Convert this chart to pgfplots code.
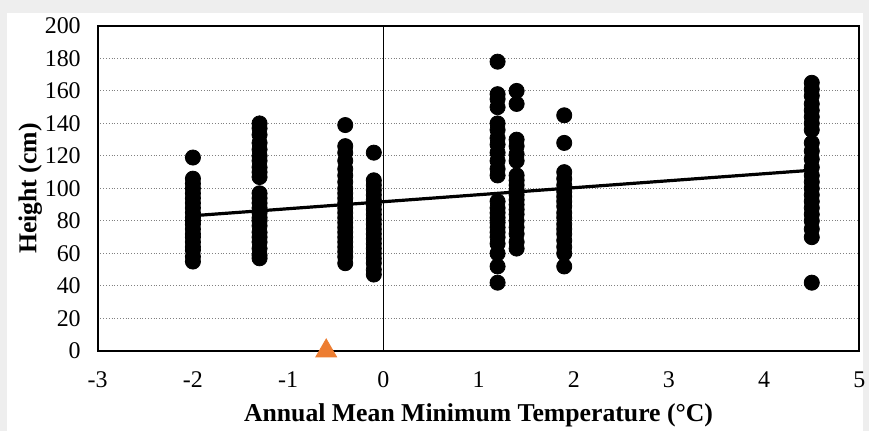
\documentclass[border=0pt]{standalone}
\usepackage{pgfplots}
\pgfplotsset{compat=1.18}
\usepackage{fontspec}
\setmainfont{Liberation Serif}
\definecolor{bgc}{HTML}{EEEEEE}
\definecolor{tri}{HTML}{ED7D31}
\begin{document}
\begin{tikzpicture}[x=1pt,y=1pt]
\fill[bgc] (0,0) rectangle (436,216);
\fill[white] (3.5,0) rectangle (433,209.5);
\begin{axis}[
  at={(49pt,40pt)}, anchor=south west,
  width=382pt, height=163pt, scale only axis,
  xmin=-3, xmax=5, ymin=0, ymax=200,
  xtick={-3,-2,-1,0,1,2,3,4,5},
  ytick={0,20,40,60,80,100,120,140,160,180,200},
  major tick length=0pt,
  ymajorgrids, grid style={densely dotted, gray, line width=0.5pt},
  axis line style={black, line width=0.9pt},
  /pgf/number format/assume math mode=true,
  ticklabel style={font=\fontsize{12}{14}\selectfont},
  xticklabel style={yshift=-7pt},
  yticklabel style={xshift=-5pt},
  xlabel={\textbf{Annual Mean Minimum Temperature (°C)}},
  ylabel={\textbf{Height (cm)}},
  label style={font=\fontsize{12.9}{15}\selectfont},
  xlabel style={yshift=-1pt},
  ylabel style={yshift=-5.5pt},
  clip=false,
]
\addplot[black, line width=0.8pt] coordinates {(0,0) (0,200)};
\addplot[only marks, mark=*, mark size=3.8pt, mark options={fill=black, draw=black}] table {
x y
-2 119
-2 106
-2 103
-2 100
-2 97
-2 94
-2 91
-2 88
-2 85
-2 82
-2 80
-2 78
-2 75
-2 72
-2 70
-2 67
-2 64
-2 62
-2 58
-2 55
-1.3 140
-1.3 137
-1.3 133
-1.3 128
-1.3 124
-1.3 120
-1.3 117
-1.3 113
-1.3 110
-1.3 107
-1.3 97
-1.3 94
-1.3 91
-1.3 88
-1.3 85
-1.3 82
-1.3 80
-1.3 77
-1.3 73
-1.3 70
-1.3 67
-1.3 63
-1.3 59
-1.3 57
-0.4 139
-0.4 126
-0.4 122
-0.4 117
-0.4 112
-0.4 108
-0.4 104
-0.4 100
-0.4 97
-0.4 94
-0.4 91
-0.4 88
-0.4 85
-0.4 82
-0.4 79
-0.4 76
-0.4 73
-0.4 70
-0.4 67
-0.4 64
-0.4 61
-0.4 58
-0.4 54
-0.1 122
-0.1 105
-0.1 102
-0.1 99
-0.1 96
-0.1 93
-0.1 90
-0.1 87
-0.1 84
-0.1 81
-0.1 78
-0.1 75
-0.1 72
-0.1 69
-0.1 66
-0.1 63
-0.1 60
-0.1 57
-0.1 54
-0.1 50
-0.1 47
1.2 178
1.2 158
1.2 155
1.2 150
1.2 140
1.2 136
1.2 131
1.2 127
1.2 122
1.2 117
1.2 112
1.2 108
1.2 92
1.2 88
1.2 85
1.2 82
1.2 79
1.2 76
1.2 73
1.2 70
1.2 66
1.2 60
1.2 52
1.2 42
1.4 160
1.4 152
1.4 130
1.4 126
1.4 121
1.4 117
1.4 108
1.4 105
1.4 102
1.4 99
1.4 96
1.4 93
1.4 90
1.4 87
1.4 84
1.4 80
1.4 76
1.4 72
1.4 67
1.4 63
1.9 145
1.9 128
1.9 110
1.9 106
1.9 102
1.9 98
1.9 95
1.9 92
1.9 89
1.9 85
1.9 82
1.9 78
1.9 75
1.9 72
1.9 68
1.9 64
1.9 60
1.9 52
4.5 165
4.5 161
4.5 157
4.5 152
4.5 148
4.5 144
4.5 140
4.5 136
4.5 128
4.5 123
4.5 118
4.5 113
4.5 108
4.5 104
4.5 100
4.5 96
4.5 92
4.5 88
4.5 84
4.5 80
4.5 75
4.5 70
4.5 42
};
\addplot[black, line width=1.6pt] coordinates {(-2,83.2) (4.5,111.2)};
\addplot[only marks, mark=triangle*, mark size=6pt, mark options={fill=tri, draw=tri}] coordinates {(-0.6,0)};
\end{axis}
\end{tikzpicture}
\end{document}
